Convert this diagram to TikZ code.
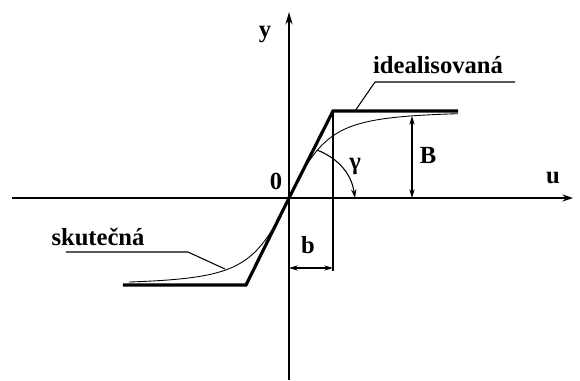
\documentclass[tikz,border=0pt]{standalone}
\usepackage{fontspec}
\setmainfont{Liberation Serif}
\usepackage{tikz}
\usetikzlibrary{arrows.meta,calc}

\tikzset{
  lbl/.style={font=\bfseries\fontsize{14}{16}\selectfont,inner sep=0pt},
  thinln/.style={line width=0.6pt},
  dimln/.style={line width=0.6pt,{Stealth[length=5pt,width=3pt]}-{Stealth[length=5pt,width=3pt]}},
}

\begin{document}
\begin{tikzpicture}[x=0.02cm,y=0.02cm]
\useasboundingbox (-289,-182) rectangle (291,198);
% axes
\coordinate (uL) at (-277,0);
\coordinate (uR) at (284,0);
\coordinate (yB) at (0,-182);
\coordinate (yT) at (0,186);
\draw[line width=1.1pt,-{Stealth[length=6pt,width=4pt]}] (uL) -- (uR);
\draw[line width=1.1pt,-{Stealth[length=7pt,width=4pt]}] (yB) -- (yT);
% idealised characteristic
\coordinate (O) at (0,0);
\coordinate (A) at (-166,-87);
\coordinate (P) at (-43,-87);
\coordinate (Q) at (44,87);
\coordinate (R) at (169,87);
\draw[line width=1.8pt] (A) -- (P) -- (O) -- (Q) -- (R);
% real characteristic
\draw[line width=0.5pt] plot[domain=-160:169,samples=90] (\x,{87*(\x/43)/sqrt((\x/43)^2+1)});
% b
\coordinate (bD) at (44,-73);
\coordinate (bL) at (0,-70);
\coordinate (bR) at (44,-70);
\draw[thinln] (Q) -- (bD);
\draw[dimln] (bL) -- (bR);
% B
\coordinate (BT) at (123,82);
\coordinate (BB) at (123,0);
\draw[dimln] (BT) -- (BB);
% gamma
\coordinate (g1) at (28,48);
\coordinate (g2) at (66,0);
\draw[thinln,-{Stealth[length=5pt,width=3pt]}] (g1) to[bend left=30] (g2);
% labels
\node[lbl] (n0) at (-13,17) {0};
\node[lbl] (ny) at (-24,163) {y};
\node[lbl] (nu) at (264,20) {u};
\node[lbl] (nb) at (19,-47) {b};
\node[lbl] (nB) at (139,43) {B};
\node[lbl] (ng) at (66,32) {γ};
\node[lbl] (ideal) at (149,133) {idealisovaná};
\node[lbl] (skut) at (-191,-39) {skutečná};
% leaders
\coordinate (i1) at (86,116);
\coordinate (i2) at (226,116);
\coordinate (i3) at (66,87);
\draw[thinln] (i2) -- (i1) -- (i3);
\coordinate (s1) at (-223,-54);
\coordinate (s2) at (-101,-54);
\coordinate (s3) at (-64,-71);
\draw[thinln] (s1) -- (s2) -- (s3);
\end{tikzpicture}
\end{document}
